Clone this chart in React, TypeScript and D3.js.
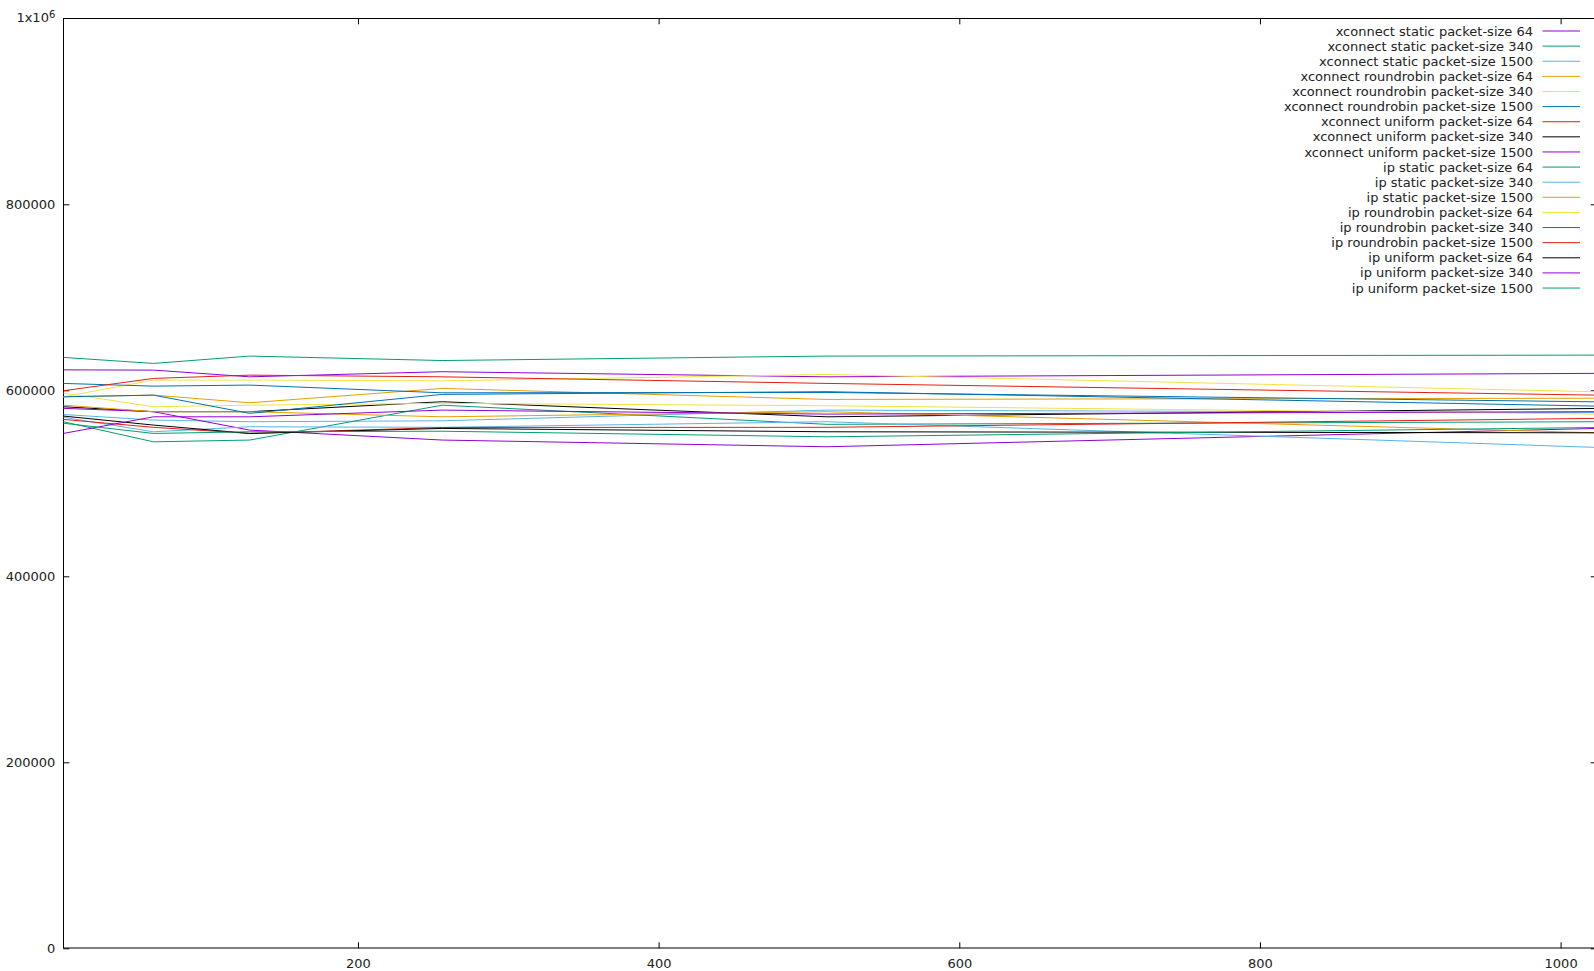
import React, { useEffect, useRef } from 'react';
import * as d3 from 'd3';

// x: number of entries, y: packets per second
const xValues = [4, 64, 128, 256, 512, 1024];

const xconnectStatic64 = [622000, 621700, 614500, 620000, 614500, 618200];
const xconnectStatic340 = [635400, 628900, 636800, 632000, 636800, 637800];
const xconnectStatic1500 = [574000, 568000, 566200, 567200, 578700, 576000];
const xconnectRoundrobin64 = [593000, 594800, 586600, 602000, 590200, 591500];
const xconnectRoundrobin340 = [593000, 611000, 611000, 610200, 617000, 598400];
const xconnectRoundrobin1500 = [607400, 604500, 605600, 597300, 597700, 587600];
const xconnectUniform64 = [599500, 612800, 616300, 614500, 607400, 594800];
const xconnectUniform340 = [582300, 577000, 577000, 587700, 571500, 580500];
const xconnectUniform1500 = [580600, 577000, 557200, 546500, 539300, 559000];
const ipStatic64 = [566200, 544600, 546500, 584000, 563400, 566200];
const ipStatic340 = [571000, 555400, 560800, 560200, 566200, 538600];
const ipStatic1500 = [584000, 577000, 577000, 571500, 577000, 554300];
const ipRoundrobin64 = [597000, 582300, 584000, 586000, 583400, 574400];
const ipRoundrobin340 = [593000, 594800, 575200, 595600, 598500, 583000];
const ipRoundrobin1500 = [568700, 560200, 553600, 560000, 560200, 569800];
const ipUniform64 = [572300, 562600, 553600, 559000, 555400, 554300];
const ipUniform340 = [553600, 571500, 571500, 578700, 574400, 577000];
const ipUniform1500 = [564600, 553600, 555400, 556000, 550000, 560000];

const seriesNames = [
    'xconnect static packet-size 64',
    'xconnect static packet-size 340',
    'xconnect static packet-size 1500',
    'xconnect roundrobin packet-size 64',
    'xconnect roundrobin packet-size 340',
    'xconnect roundrobin packet-size 1500',
    'xconnect uniform packet-size 64',
    'xconnect uniform packet-size 340',
    'xconnect uniform packet-size 1500',
    'ip static packet-size 64',
    'ip static packet-size 340',
    'ip static packet-size 1500',
    'ip roundrobin packet-size 64',
    'ip roundrobin packet-size 340',
    'ip roundrobin packet-size 1500',
    'ip uniform packet-size 64',
    'ip uniform packet-size 340',
    'ip uniform packet-size 1500',
];

const seriesValues = [
    xconnectStatic64, xconnectStatic340, xconnectStatic1500,
    xconnectRoundrobin64, xconnectRoundrobin340, xconnectRoundrobin1500,
    xconnectUniform64, xconnectUniform340, xconnectUniform1500,
    ipStatic64, ipStatic340, ipStatic1500,
    ipRoundrobin64, ipRoundrobin340, ipRoundrobin1500,
    ipUniform64, ipUniform340, ipUniform1500,
];

const xTicks = [200, 400, 600, 800, 1000];
const yTicks = [0, 200000, 400000, 600000, 800000];

// gnuplot default line colours, cycled
const palette = ['#9400d3', '#009e73', '#56b4e9', '#e69f00', '#f0e442', '#0072b2', '#e51e10', '#000000'];

const App = () => {
    const svgRef = useRef<SVGSVGElement | null>(null);

    useEffect(() => {
        document.body.style.margin = '0';
        if (!svgRef.current) return;

        const svg = d3.select(svgRef.current);
        svg.selectAll('*').remove();

        const font = '"DejaVu Sans", sans-serif';
        const left = 63.3, right = 1596.7, top = 18.3, bottom = 948.3;

        const x = d3.scaleLinear().domain([4, 1024]).range([left, right]);
        const y = d3.scaleLinear().domain([0, 1000000]).range([bottom, top]);

        // Axes (ticks point inward, gnuplot style)
        const styleAxis = (g) => {
            g.select('.domain').remove();
            g.selectAll('line').attr('stroke', '#000').attr('stroke-width', 1);
            g.selectAll('text')
                .style('font-family', font)
                .style('font-size', '13px')
                .attr('fill', '#222');
        };

        svg.append('g')
            .attr('transform', `translate(0,${bottom})`)
            .call(d3.axisBottom(x).tickValues(xTicks).tickSizeInner(-6).tickSizeOuter(0).tickPadding(10).tickFormat(d3.format('d')))
            .call(styleAxis);

        svg.append('g')
            .attr('transform', `translate(0,${top})`)
            .call(d3.axisTop(x).tickValues(xTicks).tickSizeInner(-6).tickSizeOuter(0).tickFormat(() => ''))
            .call(styleAxis);

        svg.append('g')
            .attr('transform', `translate(${left},0)`)
            .call(d3.axisLeft(y).tickValues(yTicks).tickSizeInner(-6).tickSizeOuter(0).tickPadding(8).tickFormat(d3.format('d')))
            .call(styleAxis);

        svg.append('g')
            .attr('transform', `translate(${right},0)`)
            .call(d3.axisRight(y).tickValues(yTicks).tickSizeInner(-6).tickSizeOuter(0).tickFormat(() => ''))
            .call(styleAxis);

        // 1x10^6 label at the top
        const topLabel = svg.append('text')
            .attr('x', left - 8)
            .attr('y', y(1000000))
            .attr('dy', '0.32em')
            .attr('text-anchor', 'end')
            .style('font-family', font)
            .style('font-size', '13px')
            .attr('fill', '#222');
        topLabel.append('tspan').text('1x10');
        topLabel.append('tspan').attr('dy', '-0.45em').style('font-size', '10px').text('6');

        // Border
        svg.append('line')
            .attr('x1', Math.round(left) + 0.5).attr('x2', Math.round(left) + 0.5)
            .attr('y1', top).attr('y2', bottom)
            .attr('stroke', '#000');
        svg.append('line')
            .attr('x1', left).attr('x2', right)
            .attr('y1', Math.round(top) + 0.5).attr('y2', Math.round(top) + 0.5)
            .attr('stroke', '#000');
        svg.append('line')
            .attr('x1', left).attr('x2', right)
            .attr('y1', Math.round(bottom)).attr('y2', Math.round(bottom))
            .attr('stroke', '#000');
        svg.append('line')
            .attr('x1', right).attr('x2', right)
            .attr('y1', top).attr('y2', bottom)
            .attr('stroke', '#000');

        // Lines
        svg.append('clipPath').attr('id', 'plot-clip')
            .append('rect')
            .attr('x', left).attr('y', top)
            .attr('width', right - left).attr('height', bottom - top);

        const line = d3.line<number>()
            .x((_, i) => x(xValues[i]))
            .y(d => y(d));

        const plot = svg.append('g').attr('clip-path', 'url(#plot-clip)');
        seriesValues.forEach((values, i) => {
            plot.append('path')
                .datum(values)
                .attr('fill', 'none')
                .attr('stroke', palette[i % palette.length])
                .attr('stroke-width', 1)
                .attr('d', line);
        });

        // Legend
        const legend = svg.append('g');
        seriesNames.forEach((name, i) => {
            const rowY = 31 + i * 15.12;
            legend.append('text')
                .attr('x', 1533)
                .attr('y', rowY)
                .attr('dy', '0.35em')
                .attr('text-anchor', 'end')
                .style('font-family', font)
                .style('font-size', '13px')
                .attr('fill', '#222')
                .text(name);
            legend.append('line')
                .attr('x1', 1542.5).attr('x2', 1580)
                .attr('y1', rowY).attr('y2', rowY)
                .attr('stroke', palette[i % palette.length])
                .attr('stroke-width', 1);
        });
    }, []);

    return (
        <div style={{ width: 1594, height: 971, overflow: 'hidden' }}>
            <svg ref={svgRef} width={1594} height={971} style={{ display: 'block', background: '#fff' }}></svg>
        </div>
    );
};

export default App;
